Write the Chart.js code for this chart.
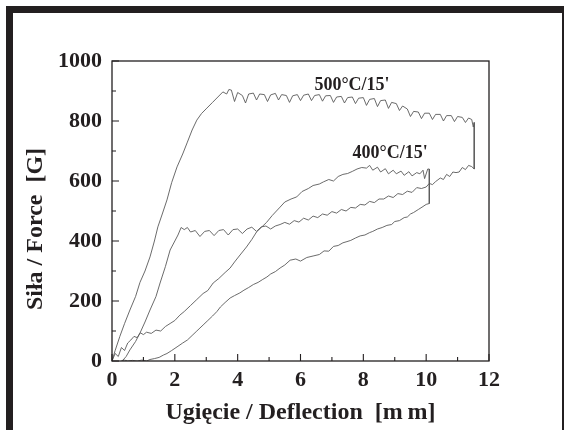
<!DOCTYPE html>
<html>
<head>
<meta charset="utf-8">
<script src="https://cdn.jsdelivr.net/npm/chart.js@4.4.1/dist/chart.umd.min.js"></script>
<style>
  html, body { margin: 0; padding: 0; background: #fff; }
  #wrap { position: relative; width: 567px; height: 430px; overflow: hidden; }
  #frame {
    position: absolute; left: 6px; top: 6px; width: 549px; height: 440px;
    border-top: 7px solid #231f20; border-left: 7px solid #231f20; border-right: 2px solid #231f20;
  }
  #chart { position: absolute; left: 0; top: 0; }
</style>
</head>
<body>
<div id="wrap">
  <div id="frame"></div>
  <canvas id="chart" width="567" height="430"></canvas>
</div>
<script>
// 500°C/15' loop: loading branch, then return branch
const load500X = [0, 0.1, 0.25, 0.4, 0.57, 0.75, 0.89, 1.05, 1.21, 1.35, 1.46, 1.6, 1.75, 1.9, 2.07, 2.25, 2.39, 2.55, 2.7, 2.85, 3.02, 3.2, 3.37, 3.53, 3.65, 3.72,
  3.8, 3.9, 4.0, 4.15, 4.25, 4.35, 4.5, 4.6, 4.7, 4.85, 4.95, 5.05, 5.2, 5.3, 5.4, 5.55, 5.65, 5.75, 5.9, 6.0, 6.1, 6.25, 6.35, 6.45, 6.6, 6.7, 6.8, 6.95,
  7.05, 7.15, 7.3, 7.4, 7.5, 7.65, 7.75, 7.85, 8.0, 8.1, 8.2, 8.35, 8.45, 8.55, 8.7, 8.8, 8.9, 9.05, 9.15, 9.25, 9.4, 9.5, 9.6, 9.75, 9.85, 9.95,
  10.1, 10.2, 10.3, 10.45, 10.55, 10.65, 10.8, 10.9, 11.0, 11.15, 11.25, 11.35, 11.45, 11.5, 11.53];
const load500Y = [0, 35, 82, 125, 170, 215, 262, 300, 347, 400, 447, 490, 537, 595, 647, 690, 727, 770, 803, 825, 843, 862, 880, 897, 890, 905,
  903, 865, 895, 885, 860, 890, 893, 870, 890, 888, 865, 887, 892, 870, 888, 885, 862, 884, 888, 868, 886, 890, 868, 885, 888, 866, 884, 885,
  862, 880, 882, 860, 878, 880, 858, 876, 878, 852, 872, 875, 848, 868, 870, 842, 862, 858, 835, 850, 840, 815, 832, 830, 808, 826,
  826, 805, 822, 822, 800, 818, 818, 798, 815, 812, 795, 810, 805, 780, 795];
const unload500X = [11.53, 11.45, 11.35, 11.25, 11.15, 11.05, 10.95, 10.85, 10.75, 10.65, 10.55, 10.45, 10.3, 10.2, 10.1, 10.0, 9.85, 9.7, 9.55, 9.4,
  9.25, 9.1, 8.95, 8.8, 8.65, 8.5, 8.35, 8.2, 8.05, 7.9, 7.75, 7.6, 7.45, 7.3, 7.15, 7.0, 6.85, 6.7, 6.55, 6.4, 6.25, 6.1, 5.95, 5.8, 5.65, 5.5,
  5.35, 5.2, 5.05, 4.9, 4.75, 4.6, 4.45, 4.3, 4.15, 4.0, 3.85, 3.7, 3.55, 3.4, 3.25, 3.1, 2.95, 2.8, 2.65, 2.5, 2.4, 2.3, 2.2,
  2.1, 2.0, 1.85, 1.7, 1.53, 1.4, 1.21, 1.05, 0.89, 0.75, 0.57, 0.45, 0.35, 0.3];
const unload500Y = [640, 648, 652, 638, 645, 630, 628, 630, 615, 622, 605, 610, 598, 588, 592, 580, 575, 578, 562, 566,
  555, 558, 545, 550, 540, 540, 528, 532, 520, 522, 510, 512, 500, 505, 493, 498, 486, 490, 478, 483, 470, 476, 463, 468, 456, 462,
  455, 450, 440, 450, 447, 432, 446, 440, 425, 440, 438, 420, 438, 435, 418, 435, 432, 415, 435, 430, 445, 438, 445,
  420, 400, 370, 315, 260, 215, 170, 130, 93, 65, 37, 15, 3, 0];

// 400°C/15' loop
const load400X = [0, 0.1, 0.2, 0.3, 0.4, 0.5, 0.6, 0.7, 0.8, 0.9, 1.0, 1.1, 1.25, 1.4, 1.55, 1.7, 1.85, 2.0, 2.16, 2.3, 2.5, 2.7, 2.9, 3.05, 3.22,
  3.4, 3.6, 3.76, 3.9, 4.05, 4.28, 4.45, 4.6, 4.75, 4.92, 5.1, 5.35, 5.5, 5.7, 5.88, 6.05, 6.25, 6.4, 6.6, 6.73, 6.9, 7.05, 7.2, 7.35, 7.5,
  7.65, 7.8, 7.95, 8.1, 8.2, 8.3, 8.45, 8.55, 8.7, 8.8, 8.95, 9.05, 9.2, 9.3, 9.45, 9.55, 9.7, 9.8, 9.9, 9.95, 10.05, 10.1];
const load400Y = [0, 25, 15, 45, 35, 60, 70, 82, 78, 94, 88, 96, 92, 103, 100, 115, 125, 135, 153, 165, 185, 205, 225, 235, 260,
  275, 295, 310, 330, 350, 380, 405, 430, 445, 462, 485, 513, 530, 540, 547, 565, 575, 585, 590, 597, 605, 600, 615, 622, 625,
  632, 640, 645, 643, 652, 636, 646, 630, 641, 624, 636, 624, 633, 619, 631, 617, 628, 624, 636, 608, 640, 640];
const unload400X = [10.1, 10.0, 9.9, 9.75, 9.6, 9.5, 9.4, 9.3, 9.15, 9.0, 8.9, 8.75, 8.6, 8.45, 8.3, 8.2, 8.05, 7.9, 7.75, 7.6, 7.48, 7.35, 7.2,
  7.05, 6.9, 6.75, 6.6, 6.4, 6.2, 6.0, 5.85, 5.67, 5.5, 5.35, 5.2, 5.05, 4.93, 4.8, 4.65, 4.5, 4.35, 4.2, 4.07, 3.9, 3.76, 3.6, 3.45,
  3.34, 3.2, 3.05, 2.9, 2.8, 2.7, 2.55, 2.4, 2.25, 2.07, 1.9, 1.75, 1.64, 1.5, 1.35, 1.21, 1.1, 0.95, 0.8, 0.65, 0.5, 0.4, 0.3];
const unload400Y = [525, 522, 515, 505, 495, 490, 480, 478, 468, 465, 455, 452, 445, 440, 432, 428, 420, 417, 410, 402, 398, 394, 385,
  382, 366, 367, 355, 350, 345, 333, 340, 336, 320, 310, 298, 290, 280, 272, 262, 255, 245, 236, 227, 218, 210, 195, 180,
  165, 150, 135, 120, 110, 100, 85, 70, 60, 47, 35, 25, 20, 12, 8, 5, 0, 3, 0, 2, 0, 3, 0];

const xTicks = [0, 2, 4, 6, 8, 10, 12];
const yTicks = [0, 200, 400, 600, 800, 1000];
const curveLabels = ["500°C/15'", "400°C/15'"];
const labelX = [7.64, 8.85];
const labelY = [918, 693];

const ink = '#231f20';
const serif = 'Liberation Serif, "Times New Roman", Times, serif';

function toPoints(xs, ys) {
  return xs.map((x, i) => ({ x: x, y: ys[i] }));
}

const loop500 = toPoints(load500X.concat(unload500X), load500Y.concat(unload500Y));
const loop400 = toPoints(load400X.concat(unload400X), load400Y.concat(unload400Y));

// box round the plot, inward ticks, curve labels
const frameBits = {
  id: 'frameBits',
  afterDraw(chart) {
    const { ctx, chartArea: a, scales: { x, y } } = chart;
    ctx.save();
    ctx.strokeStyle = ink;
    ctx.lineWidth = 1.3;
    ctx.strokeRect(a.left, a.top, a.right - a.left, a.bottom - a.top);
    ctx.lineWidth = 1.1;
    ctx.beginPath();
    for (let v = 0; v <= 12; v++) {
      const px = x.getPixelForValue(v);
      const len = v % 2 === 0 ? 7 : 4;
      ctx.moveTo(px, a.bottom);
      ctx.lineTo(px, a.bottom - len);
    }
    for (let v = 0; v <= 1000; v += 100) {
      const py = y.getPixelForValue(v);
      const len = v % 200 === 0 ? 7 : 4;
      ctx.moveTo(a.left, py);
      ctx.lineTo(a.left + len, py);
    }
    ctx.stroke();
    ctx.fillStyle = ink;
    ctx.font = 'bold 18px ' + serif;
    ctx.textAlign = 'center';
    ctx.textBaseline = 'middle';
    curveLabels.forEach((t, i) => {
      ctx.fillText(t, x.getPixelForValue(labelX[i]), y.getPixelForValue(labelY[i]));
    });
    ctx.restore();
  }
};

const lineStyle = { showLine: true, borderColor: '#5a5a5a', borderWidth: 0.9, pointRadius: 0, fill: false, tension: 0 };

new Chart(document.getElementById('chart'), {
  type: 'scatter',
  data: {
    datasets: [
      Object.assign({ label: curveLabels[0], data: loop500 }, lineStyle),
      Object.assign({ label: curveLabels[1], data: loop400 }, lineStyle)
    ]
  },
  options: {
    responsive: false,
    animation: false,
    events: [],
    layout: { padding: { left: 14, top: 61, right: 78, bottom: 0 } },
    plugins: { legend: { display: false }, tooltip: { enabled: false } },
    scales: {
      x: {
        type: 'linear', min: 0, max: 12,
        afterFit: s => { s.height = 69; },
        grid: { display: false, drawTicks: false },
        border: { display: false },
        afterBuildTicks: s => { s.ticks = xTicks.map(v => ({ value: v })); },
        ticks: {
          autoSkip: false, maxRotation: 0, padding: 8, color: ink,
          callback: v => String(v),
          font: { family: serif, size: 22, weight: 'bold', lineHeight: 1 }
        },
        title: {
          display: true, text: 'Ugięcie / Deflection  [m\u2009m]', color: ink,
          font: { family: serif, size: 24, weight: 'bold', lineHeight: 1 },
          padding: { top: 0, bottom: 5 }
        }
      },
      y: {
        type: 'linear', min: 0, max: 1000,
        afterFit: s => { s.width = 98; },
        grid: { display: false, drawTicks: false },
        border: { display: false },
        afterBuildTicks: s => { s.ticks = yTicks.map(v => ({ value: v })); },
        ticks: {
          padding: 10, color: ink,
          callback: v => String(v),
          font: { family: serif, size: 22, weight: 'bold', lineHeight: 1 }
        },
        title: {
          display: true, text: 'Siła / Force  [G]\u2003\u2002', color: ink,
          font: { family: serif, size: 24, weight: 'bold', lineHeight: 1 },
          padding: { top: 10, bottom: 0 }
        }
      }
    }
  },
  plugins: [frameBits]
});
</script>
</body>
</html>
